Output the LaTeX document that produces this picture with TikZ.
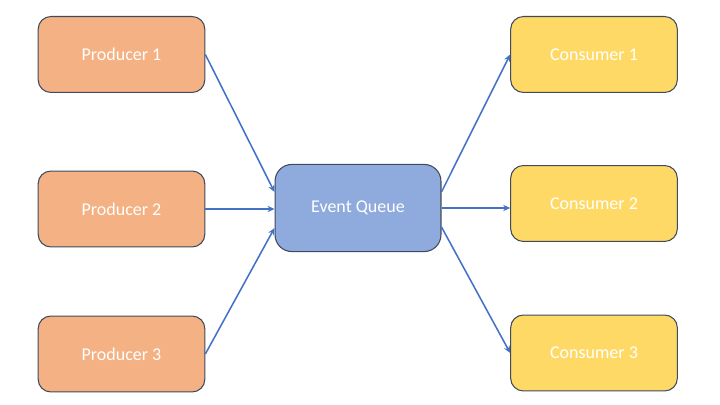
\documentclass[tikz,border=0pt]{standalone}
\usepackage{fontspec}
\setmainfont{Carlito}
\usetikzlibrary{arrows.meta,calc}

\definecolor{prodfill}{HTML}{F4B183}
\definecolor{queuefill}{HTML}{8FAADC}
\definecolor{consfill}{HTML}{FFD966}
\definecolor{boxline}{HTML}{3F4A5E}
\definecolor{flowblue}{HTML}{4472C4}

\tikzset{
  block/.style={draw=boxline, line width=0.75pt, rounded corners=9pt, text=white,
    font=\fontsize{12.8}{15}\selectfont, minimum width=118.5pt, minimum height=54pt, inner sep=0pt},
  producer/.style={block, fill=prodfill},
  queuebox/.style={block, fill=queuefill, rounded corners=12pt, minimum width=118pt, minimum height=62pt},
  consumer/.style={block, fill=consfill},
  flow/.style={draw=flowblue, line width=1.1pt, -{Stealth[length=5pt,width=4.5pt]}}
}

\begin{document}
\begin{tikzpicture}[x=0.025cm, y=-0.025cm]
  \useasboundingbox (0,0) rectangle (720,405);

  % Producers
  \foreach \i/\y in {1/54.5, 2/209, 3/354} {
    \node[producer] (prod\i) at (121.5,\y) {Producer \i};
  }

  % Event queue
  \node[queuebox] (queue) at (358,208) {Event Queue};

  % Consumers
  \foreach \i/\y in {1/54.5, 2/203.5, 3/353} {
    \node[consumer] (cons\i) at (594,\y) {Consumer \i};
  }

  % Edges into the queue
  \draw[flow] (prod1.east) -- ($(queue.west)+(0,-16)$);
  \draw[flow] (prod2.east) -- (prod2.east -| queue.west);
  \draw[flow] (prod3.east) -- ($(queue.west)+(0,20)$);

  % Edges out of the queue
  \draw[flow] ($(queue.east)+(0,-16)$) -- (cons1.west);
  \draw[flow] (queue.east) -- (queue.east -| cons2.west);
  \draw[flow] ($(queue.east)+(0,19)$) -- (cons3.west);
\end{tikzpicture}
\end{document}
